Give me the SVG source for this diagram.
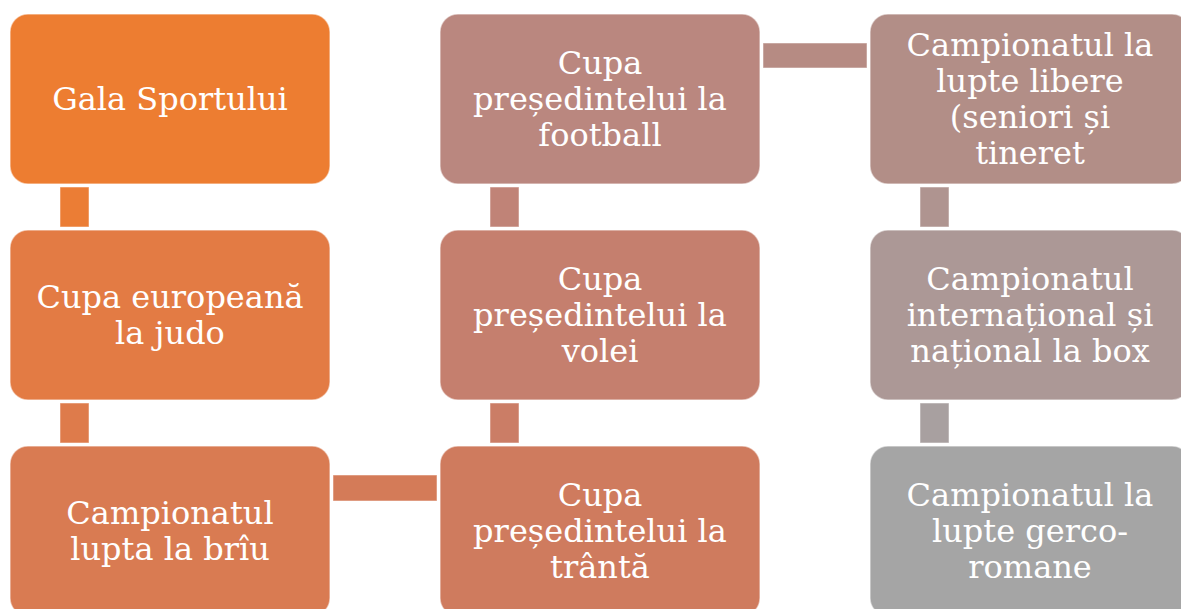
<svg xmlns="http://www.w3.org/2000/svg" width="1181" height="609" viewBox="0 0 1181 609">
<style>
.box{stroke:#ffffff;stroke-opacity:0.5;stroke-width:1.5}
.bar{stroke:#ffffff;stroke-opacity:0.5;stroke-width:1}
.t{font-family:"DejaVu Serif","Liberation Serif",serif;font-size:32px;fill:#ffffff;text-anchor:middle}
</style>
<rect width="1181" height="609" fill="#ffffff"/>
<g id="connectors">
<rect class="bar" x="60" y="187" width="29" height="40" fill="#EB7D35"/>
<rect class="bar" x="60" y="403" width="29" height="40" fill="#DE7B4B"/>
<rect class="bar" x="333" y="475" width="104" height="26" fill="#D47B58"/>
<rect class="bar" x="490" y="403" width="29" height="40" fill="#CB7D66"/>
<rect class="bar" x="490" y="187" width="29" height="40" fill="#C08377"/>
<rect class="bar" x="763" y="43" width="104" height="25" fill="#B68B83"/>
<rect class="bar" x="920" y="187" width="29" height="40" fill="#AF9490"/>
<rect class="bar" x="920" y="403" width="29" height="40" fill="#A8A0A0"/>
</g>
<g id="n1"><rect class="box" x="10" y="14" width="320" height="170" rx="18" fill="#ED7D31"/>
<text class="t" x="170" y="110">Gala Sportului</text></g>
<g id="n2"><rect class="box" x="10" y="230" width="320" height="170" rx="18" fill="#E37B44"/>
<text class="t" x="170" y="308">Cupa europeană</text><text class="t" x="170" y="344">la judo</text></g>
<g id="n3"><rect class="box" x="10" y="446" width="320" height="170" rx="18" fill="#D97B52"/>
<text class="t" x="170" y="524">Campionatul</text><text class="t" x="170" y="560">lupta la brîu</text></g>
<g id="n4"><rect class="box" x="440" y="446" width="320" height="170" rx="18" fill="#CF7B5E"/>
<text class="t" x="600" y="506">Cupa</text><text class="t" x="600" y="542">președintelui la</text><text class="t" x="600" y="578">trântă</text></g>
<g id="n5"><rect class="box" x="440" y="230" width="320" height="170" rx="18" fill="#C57F6E"/>
<text class="t" x="600" y="290">Cupa</text><text class="t" x="600" y="326">președintelui la</text><text class="t" x="600" y="362">volei</text></g>
<g id="n6"><rect class="box" x="440" y="14" width="320" height="170" rx="18" fill="#BA877F"/>
<text class="t" x="600" y="74">Cupa</text><text class="t" x="600" y="110">președintelui la</text><text class="t" x="600" y="146">football</text></g>
<g id="n7"><rect class="box" x="870" y="14" width="320" height="170" rx="18" fill="#B28E87"/>
<text class="t" x="1030" y="56">Campionatul la</text><text class="t" x="1030" y="92">lupte libere</text><text class="t" x="1030" y="128">(seniori și</text><text class="t" x="1030" y="164">tineret</text></g>
<g id="n8"><rect class="box" x="870" y="230" width="320" height="170" rx="18" fill="#AC9896"/>
<text class="t" x="1030" y="290">Campionatul</text><text class="t" x="1030" y="326">internațional și</text><text class="t" x="1030" y="362">național la box</text></g>
<g id="n9"><rect class="box" x="870" y="446" width="320" height="170" rx="18" fill="#A5A5A5"/>
<text class="t" x="1030" y="506">Campionatul la</text><text class="t" x="1030" y="542">lupte gerco-</text><text class="t" x="1030" y="578">romane</text></g>
</svg>
